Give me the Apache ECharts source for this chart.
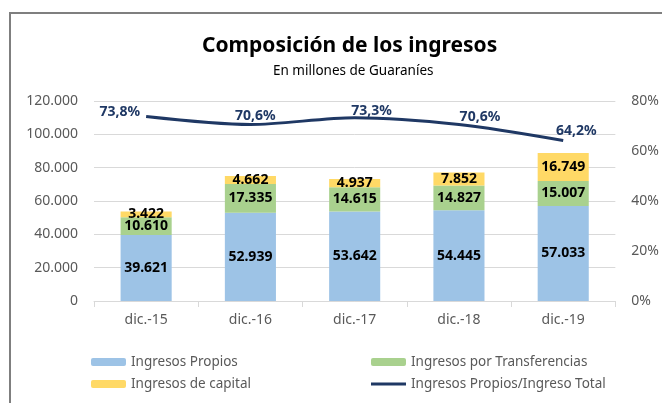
<!DOCTYPE html>
<html>
<head>
<meta charset="utf-8">
<script src="https://cdn.jsdelivr.net/npm/echarts@6/dist/echarts.min.js"></script>
<style>
  html, body { margin: 0; padding: 0; background: #fff; }
  #chart { width: 662px; height: 403px; }
</style>
</head>
<body>
<div id="chart"></div>
<script>
// datos
var categorias = ['dic.-15', 'dic.-16', 'dic.-17', 'dic.-18', 'dic.-19'];
var propios = [39621, 52939, 53642, 54445, 57033];
var transferencias = [10610, 17335, 14615, 14827, 15007];
var capital = [3422, 4662, 4937, 7852, 16749];
var ratio = [73.8, 70.6, 73.3, 70.6, 64.2];   // Ingresos Propios / Ingreso Total (%)

var FONT = 'Noto Sans';

function miles(v) {
  return String(v).replace(/\B(?=(\d{3})+(?!\d))/g, '.');
}

var chart = echarts.init(document.getElementById('chart'));

var barLabel = {
  show: true,
  position: 'inside',
  color: '#000',
  fontWeight: 'bold',
  fontSize: 14,
  fontFamily: FONT,
  formatter: function (p) { return miles(p.value); }
};

// donde va cada etiqueta de la linea
var posLinea = [
  { position: 'left', distance: 6, offset: [0, -4] },
  { position: 'top', offset: [5, 4] },
  { position: 'top', offset: [17, 5] },
  { position: 'top', offset: [21, 5] },
  { position: 'top', offset: [13, 3] }
];

var legendText = { fontSize: 13.5, color: '#595959', fontFamily: FONT };

var option = {
  animation: false,
  textStyle: { fontFamily: FONT },
  graphic: [{
    type: 'rect',
    shape: { x: 10, y: 13, width: 700, height: 450 },
    style: { fill: 'none', stroke: '#7f7f7f', lineWidth: 2 },
    silent: true
  }],
  // el titulo esta centrado en el area del grafico (que sigue a la derecha)
  title: [{
    text: 'Composición de los ingresos',
    left: 197,
    top: 31,
    textStyle: { fontSize: 21, fontWeight: 'bold', color: '#000', fontFamily: FONT }
  }, {
    text: 'En millones de Guaraníes',
    left: 268,
    top: 59,
    textStyle: { fontSize: 13.5, fontWeight: 'normal', color: '#000', fontFamily: FONT }
  }],
  grid: { left: 94, right: 44, top: 101, bottom: 102 },
  legend: [{
    data: ['Ingresos Propios', 'Ingresos de capital'],
    orient: 'vertical',
    left: 86,
    top: 350,
    itemGap: 8,
    itemWidth: 35,
    itemHeight: 8,
    textStyle: legendText
  }, {
    data: [
      'Ingresos por Transferencias',
      { name: 'Ingresos Propios/Ingreso Total', icon: 'path://M0,0L0,0M0,2.5H35V5.5H0ZM35,8L35,8' }
    ],
    orient: 'vertical',
    left: 366,
    top: 350,
    itemGap: 8,
    itemWidth: 35,
    itemHeight: 8,
    textStyle: legendText
  }],
  xAxis: {
    type: 'category',
    data: categorias,
    axisLine: { lineStyle: { color: '#d9d9d9' } },
    axisTick: { show: true, length: 6, lineStyle: { color: '#d9d9d9' } },
    axisLabel: { color: '#595959', fontSize: 14, margin: 12, fontFamily: FONT }
  },
  yAxis: [{
    type: 'value',
    min: 0,
    max: 120000,
    interval: 20000,
    axisLabel: {
      color: '#595959', fontSize: 14, margin: 16, fontFamily: FONT,
      formatter: function (v) { return miles(v); }
    },
    splitLine: { lineStyle: { color: '#d9d9d9' } }
  }, {
    type: 'value',
    min: 0,
    max: 80,
    interval: 20,
    axisLabel: { color: '#595959', fontSize: 14, margin: 16, fontFamily: FONT, formatter: '{value}%' },
    splitLine: { show: false }
  }],
  series: [{
    name: 'Ingresos Propios',
    type: 'bar',
    stack: 'total',
    barWidth: '49%',
    data: propios,
    itemStyle: { color: '#9DC3E6' },
    label: barLabel
  }, {
    name: 'Ingresos por Transferencias',
    type: 'bar',
    stack: 'total',
    data: transferencias,
    itemStyle: { color: '#A9D18E' },
    label: barLabel
  }, {
    name: 'Ingresos de capital',
    type: 'bar',
    stack: 'total',
    data: capital,
    itemStyle: { color: '#FFD966' },
    label: barLabel
  }, {
    name: 'Ingresos Propios/Ingreso Total',
    type: 'line',
    yAxisIndex: 1,
    smooth: 0.3,
    symbol: 'circle',
    symbolSize: 0,
    showSymbol: true,
    data: ratio.map(function (v, i) {
      return { value: v, label: posLinea[i] };
    }),
    itemStyle: { color: '#1F3864' },
    lineStyle: { color: '#1F3864', width: 3 },
    label: {
      show: true,
      color: '#1F3864',
      fontWeight: 'bold',
      fontSize: 14,
      fontFamily: FONT,
      formatter: function (p) { return String(p.value).replace('.', ',') + '%'; }
    }
  }]
};

chart.setOption(option);
</script>
</body>
</html>
